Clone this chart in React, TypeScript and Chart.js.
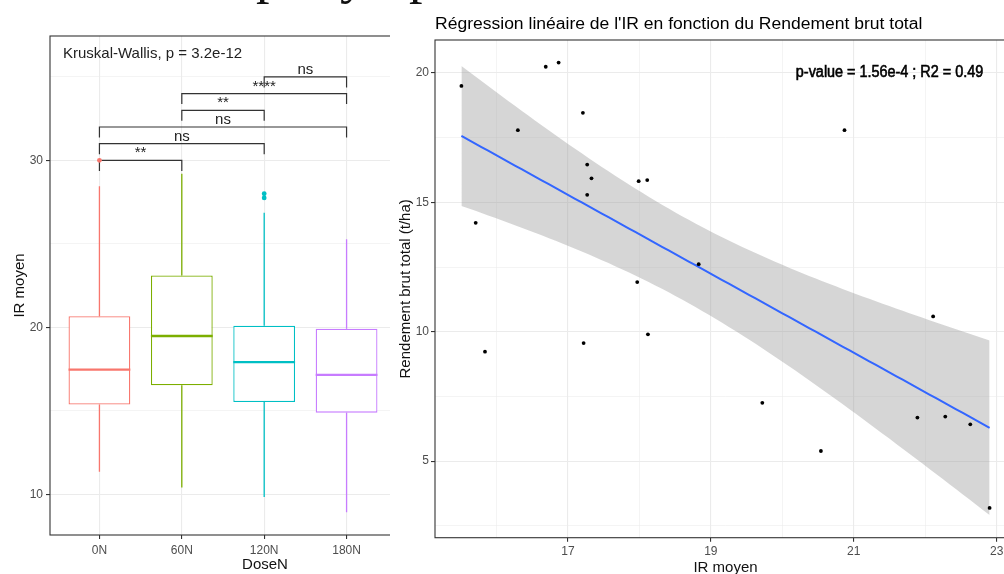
import React, { useEffect, useRef } from 'react';
import { Chart, registerables } from 'chart.js';

Chart.register(...registerables);

const FONT = "'Liberation Sans', Arial, Helvetica, sans-serif";

// ---------- Left panel: boxplot of IR moyen by DoseN ----------
const doseCategories = ['0N', '60N', '120N', '180N'];
const doseColors = ['#F8766D', '#7CAE00', '#00BFC4', '#C77CFF'];
const whiskerLow = [11.35, 10.4, 9.84, 8.92];
const boxQ1 = [15.37, 16.53, 15.53, 14.89];
const boxMedian = [17.47, 19.48, 17.92, 17.15];
const boxQ3 = [20.66, 23.1, 20.1, 19.92];
const whiskerHigh = [28.45, 29.2, 26.87, 25.27];
const outlierDose = [0, 2, 2];
const outlierIR = [30.0, 28.0, 27.75];
const bracketFrom = [0, 0, 0, 1, 1, 2];
const bracketTo = [1, 2, 3, 2, 3, 3];
const bracketHeight = [30, 31, 32, 33, 34, 35];
const bracketLabels = ['**', 'ns', 'ns', '**', '****', 'ns'];
const bracketTip = 0.63;
const kruskalLabel = 'Kruskal-Wallis, p = 3.2e-12';
const irTicks = [10, 15, 20, 25, 30, 35];
const irMajorTicks = [10, 20, 30];
const irRange = [7.56, 37.45];

// ---------- Right panel: regression ----------
const irMoyen = [
  15.51, 16.69, 16.87, 17.21, 16.3, 17.27, 17.33, 17.27, 17.99, 18.11, 20.87, 15.71,
  15.84, 17.22, 17.97, 18.12, 18.83, 22.11, 19.72, 20.54, 21.89, 22.28, 22.63, 22.9,
];
const rendement = [
  19.5, 20.24, 20.4, 18.46, 17.79, 16.46, 15.93, 15.29, 15.82, 15.86, 17.79, 14.21,
  9.23, 9.56, 11.92, 9.9, 12.61, 10.59, 7.25, 5.39, 6.68, 6.72, 6.42, 3.19,
];
const regXTicks = [16, 17, 18, 19, 20, 21, 22, 23];
const regXMajor = [17, 19, 21, 23];
const regYTicks = [2.5, 5, 7.5, 10, 12.5, 15, 17.5, 20];
const regYMajor = [5, 10, 15, 20];
const regTitle = "Régression linéaire de l'IR en fonction du Rendement brut total";
const regLabel = 'p-value = 1.56e-4 ; R2 = 0.49';
const regLabelPos = [21.5, 20];
const regXTitle = 'IR moyen';
const regYTitle = 'Rendement brut total (t/ha)';

function tQuantile975(df: number) {
  const z = 1.959964;
  const z3 = z ** 3, z5 = z ** 5, z7 = z ** 7;
  return (
    z +
    (z3 + z) / (4 * df) +
    (5 * z5 + 16 * z3 + 3 * z) / (96 * df * df) +
    (3 * z7 + 19 * z5 + 17 * z3 - 15 * z) / (384 * df ** 3)
  );
}

function fitRegression(xs: number[], ys: number[], steps = 80) {
  const n = xs.length;
  const mx = xs.reduce((a, b) => a + b, 0) / n;
  const my = ys.reduce((a, b) => a + b, 0) / n;
  let sxx = 0, sxy = 0;
  for (let i = 0; i < n; i++) {
    sxx += (xs[i] - mx) ** 2;
    sxy += (xs[i] - mx) * (ys[i] - my);
  }
  const slope = sxy / sxx;
  const intercept = my - slope * mx;
  let sse = 0;
  for (let i = 0; i < n; i++) sse += (ys[i] - (intercept + slope * xs[i])) ** 2;
  const s = Math.sqrt(sse / (n - 2));
  const t = tQuantile975(n - 2);
  const lo = Math.min(...xs), hi = Math.max(...xs);
  const fit: { x: number; y: number }[] = [];
  const upper: { x: number; y: number }[] = [];
  const lower: { x: number; y: number }[] = [];
  for (let i = 0; i < steps; i++) {
    const xv = lo + ((hi - lo) * i) / (steps - 1);
    const yv = intercept + slope * xv;
    const se = s * Math.sqrt(1 / n + (xv - mx) ** 2 / sxx);
    fit.push({ x: xv, y: yv });
    upper.push({ x: xv, y: yv + t * se });
    lower.push({ x: xv, y: yv - t * se });
  }
  return { fit, upper, lower };
}

const gridColor = '#EBEBEB';
const tickColor = '#4D4D4D';
const frameColor = '#333333';
const tickFontSize = 12;

function leftConfig(): any {
  const boxDecor = {
    id: 'boxDecor',
    beforeDatasetsDraw(chart: any) {
      const { ctx } = chart;
      const x = chart.scales.x, y = chart.scales.y;
      ctx.save();
      doseCategories.forEach((_, i) => {
        const px = x.getPixelForValue(i);
        ctx.strokeStyle = doseColors[i];
        ctx.lineWidth = 1.3;
        ctx.beginPath();
        ctx.moveTo(px, y.getPixelForValue(boxQ3[i]));
        ctx.lineTo(px, y.getPixelForValue(whiskerHigh[i]));
        ctx.moveTo(px, y.getPixelForValue(boxQ1[i]));
        ctx.lineTo(px, y.getPixelForValue(whiskerLow[i]));
        ctx.stroke();
      });
      ctx.strokeStyle = '#333';
      ctx.lineWidth = 1.2;
      ctx.fillStyle = '#222';
      ctx.font = `15px ${FONT}`;
      ctx.textAlign = 'center';
      ctx.textBaseline = 'alphabetic';
      bracketFrom.forEach((f, k) => {
        const x0 = x.getPixelForValue(f);
        const x1 = x.getPixelForValue(bracketTo[k]);
        const yl = y.getPixelForValue(bracketHeight[k]);
        const yt = y.getPixelForValue(bracketHeight[k] - bracketTip);
        ctx.beginPath();
        ctx.moveTo(x0, yt);
        ctx.lineTo(x0, yl);
        ctx.lineTo(x1, yl);
        ctx.lineTo(x1, yt);
        ctx.stroke();
        ctx.fillText(bracketLabels[k], (x0 + x1) / 2, yl - 3);
      });
      ctx.restore();
    },
    afterDatasetsDraw(chart: any) {
      const { ctx } = chart;
      const y = chart.scales.y;
      const meta = chart.getDatasetMeta(0);
      ctx.save();
      meta.data.forEach((bar: any, i: number) => {
        const py = y.getPixelForValue(boxMedian[i]);
        ctx.strokeStyle = doseColors[i];
        ctx.lineWidth = 2.3;
        ctx.beginPath();
        ctx.moveTo(bar.x - bar.width / 2, py);
        ctx.lineTo(bar.x + bar.width / 2, py);
        ctx.stroke();
      });
      ctx.restore();
    },
    afterDraw(chart: any) {
      const { ctx, chartArea } = chart;
      ctx.save();
      ctx.strokeStyle = frameColor;
      ctx.lineWidth = 1.1;
      ctx.strokeRect(chartArea.left, chartArea.top, chartArea.right - chartArea.left, chartArea.bottom - chartArea.top);
      ctx.fillStyle = '#222';
      ctx.font = `15px ${FONT}`;
      ctx.textAlign = 'left';
      ctx.textBaseline = 'middle';
      ctx.fillText(kruskalLabel, chartArea.left + 13, chartArea.top + 18);
      ctx.fillStyle = '#111';
      ctx.font = `15px ${FONT}`;
      ctx.textAlign = 'center';
      ctx.textBaseline = 'alphabetic';
      ctx.fillText('DoseN', 265, 569);
      ctx.translate(24, (chartArea.top + chartArea.bottom) / 2);
      ctx.rotate(-Math.PI / 2);
      ctx.fillText('IR moyen', 0, 0);
      ctx.restore();
    },
  };

  return {
    type: 'bar',
    data: {
      datasets: [
        {
          type: 'bar',
          data: doseCategories.map((_, i) => ({ x: i, y: [boxQ1[i], boxQ3[i]] })),
          backgroundColor: '#FFFFFF',
          borderColor: doseColors,
          borderWidth: 1.3,
          borderSkipped: false,
          barPercentage: 0.75,
          categoryPercentage: 1,
          order: 1,
        },
        {
          type: 'scatter',
          data: outlierDose.map((d, i) => ({ x: d, y: outlierIR[i] })),
          pointBackgroundColor: outlierDose.map((d) => doseColors[d]),
          pointBorderWidth: 0,
          pointRadius: 2.4,
          order: 0,
        },
      ],
    },
    options: {
      animation: false,
      responsive: false,
      events: [],
      layout: { padding: { top: 36, right: 3, left: 0, bottom: 0 } },
      plugins: { legend: { display: false }, tooltip: { enabled: false }, title: { display: false } },
      scales: {
        x: {
          type: 'linear',
          min: -0.6,
          max: 3.6,
          offset: false,
          afterBuildTicks: (s: any) => {
            s.ticks = doseCategories.map((_, i) => ({ value: i }));
          },
          afterFit: (s: any) => {
            s.height = 39;
          },
          ticks: {
            autoSkip: false,
            maxRotation: 0,
            color: tickColor,
            font: { size: tickFontSize, family: FONT },
            padding: 4,
            callback: (v: any) => doseCategories[v] ?? '',
          },
          grid: { offset: false, color: gridColor, lineWidth: 1.1, tickColor: frameColor, tickLength: 4 },
          border: { display: false },
        },
        y: {
          type: 'linear',
          min: irRange[0],
          max: irRange[1],
          beginAtZero: false,
          afterBuildTicks: (s: any) => {
            s.ticks = irTicks.map((v) => ({ value: v }));
          },
          afterFit: (s: any) => {
            s.width = 50;
          },
          ticks: {
            autoSkip: false,
            color: tickColor,
            font: { size: tickFontSize, family: FONT },
            padding: 3,
            callback: (v: any) => (irMajorTicks.includes(v) ? String(v) : ''),
          },
          grid: {
            color: gridColor,
            lineWidth: (c: any) => (irMajorTicks.includes(c.tick?.value) ? 1.1 : 0.55),
            tickColor: (c: any) => (irMajorTicks.includes(c.tick?.value) ? frameColor : 'rgba(0,0,0,0)'),
            tickLength: 4,
          },
          border: { display: false },
        },
      },
    },
    plugins: [boxDecor],
  };
}

function rightConfig(): any {
  const reg = fitRegression(irMoyen, rendement);
  const xLo = Math.min(...irMoyen), xHi = Math.max(...irMoyen);
  const xPad = (xHi - xLo) * 0.05;
  const yAll = [...rendement, ...reg.lower.map((p) => p.y), ...reg.upper.map((p) => p.y)];
  const yLo = Math.min(...yAll), yHi = Math.max(...yAll);
  const yPad = (yHi - yLo) * 0.05;

  const regDecor = {
    id: 'regDecor',
    afterDraw(chart: any) {
      const { ctx, chartArea } = chart;
      const x = chart.scales.x, y = chart.scales.y;
      ctx.save();
      ctx.strokeStyle = frameColor;
      ctx.lineWidth = 1.1;
      ctx.strokeRect(chartArea.left, chartArea.top, chartArea.right - chartArea.left, chartArea.bottom - chartArea.top);

      // title
      ctx.save();
      ctx.fillStyle = '#000';
      ctx.font = `16px ${FONT}`;
      ctx.textAlign = 'left';
      ctx.textBaseline = 'alphabetic';
      ctx.translate(chartArea.left, 29.3);
      ctx.scale(1.095, 1);
      ctx.fillText(regTitle, 0, 0);
      ctx.restore();

      // p-value annotation
      ctx.save();
      ctx.fillStyle = '#000';
      ctx.strokeStyle = '#000';
      ctx.lineWidth = 0.6;
      ctx.font = `16px ${FONT}`;
      ctx.textAlign = 'center';
      ctx.textBaseline = 'middle';
      ctx.translate(x.getPixelForValue(regLabelPos[0]), y.getPixelForValue(regLabelPos[1]));
      ctx.scale(0.9, 1);
      ctx.fillText(regLabel, 0, 0);
      ctx.strokeText(regLabel, 0, 0);
      ctx.restore();

      // axis titles
      ctx.fillStyle = '#111';
      ctx.font = `15px ${FONT}`;
      ctx.textAlign = 'center';
      ctx.textBaseline = 'alphabetic';
      ctx.fillText(regXTitle, (chartArea.left + chartArea.right) / 2, 572);
      ctx.translate(19.5, (chartArea.top + chartArea.bottom) / 2);
      ctx.rotate(-Math.PI / 2);
      ctx.fillText(regYTitle, 0, 0);
      ctx.restore();
    },
  };

  return {
    type: 'line',
    data: {
      datasets: [
        {
          data: reg.lower,
          borderWidth: 0,
          borderColor: 'rgba(0,0,0,0)',
          pointRadius: 0,
          fill: false,
          tension: 0,
          order: 3,
        },
        {
          data: reg.upper,
          borderWidth: 0,
          borderColor: 'rgba(0,0,0,0)',
          pointRadius: 0,
          fill: '-1',
          backgroundColor: 'rgba(153,153,153,0.4)',
          tension: 0,
          order: 2,
        },
        {
          data: reg.fit,
          borderColor: '#3366FF',
          borderWidth: 2,
          pointRadius: 0,
          fill: false,
          tension: 0,
          order: 1,
        },
        {
          data: irMoyen.map((v, i) => ({ x: v, y: rendement[i] })),
          showLine: false,
          pointRadius: 1.9,
          pointBackgroundColor: '#000',
          pointBorderWidth: 0,
          fill: false,
          order: 0,
        },
      ],
    },
    options: {
      animation: false,
      responsive: false,
      events: [],
      layout: { padding: { top: 40, right: 14, left: 0, bottom: 0 } },
      plugins: { legend: { display: false }, tooltip: { enabled: false }, title: { display: false } },
      scales: {
        x: {
          type: 'linear',
          min: xLo - xPad,
          max: xHi + xPad,
          afterBuildTicks: (s: any) => {
            s.ticks = regXTicks.map((v) => ({ value: v }));
          },
          afterFit: (s: any) => {
            s.height = 36.3;
          },
          ticks: {
            autoSkip: false,
            maxRotation: 0,
            color: tickColor,
            font: { size: tickFontSize, family: FONT },
            padding: 3,
            callback: (v: any) => (regXMajor.includes(v) ? String(v) : ''),
          },
          grid: {
            color: gridColor,
            lineWidth: (c: any) => (regXMajor.includes(c.tick?.value) ? 1.1 : 0.55),
            tickColor: (c: any) => (regXMajor.includes(c.tick?.value) ? frameColor : 'rgba(0,0,0,0)'),
            tickLength: 4,
          },
          border: { display: false },
        },
        y: {
          type: 'linear',
          min: yLo - yPad,
          max: yHi + yPad,
          afterBuildTicks: (s: any) => {
            s.ticks = regYTicks.map((v) => ({ value: v }));
          },
          afterFit: (s: any) => {
            s.width = 45;
          },
          ticks: {
            autoSkip: false,
            color: tickColor,
            font: { size: tickFontSize, family: FONT },
            padding: 2,
            callback: (v: any) => (regYMajor.includes(v) ? String(v) : ''),
          },
          grid: {
            color: gridColor,
            lineWidth: (c: any) => (regYMajor.includes(c.tick?.value) ? 1.1 : 0.55),
            tickColor: (c: any) => (regYMajor.includes(c.tick?.value) ? frameColor : 'rgba(0,0,0,0)'),
            tickLength: 4,
          },
          border: { display: false },
        },
      },
    },
    plugins: [regDecor],
  };
}

const serifFragments = ['p', 'y', 'p'];
const serifFragmentLeft = [256, 340, 409];

export default function App() {
  const leftRef = useRef<HTMLCanvasElement>(null);
  const rightRef = useRef<HTMLCanvasElement>(null);

  useEffect(() => {
    const left = new Chart(leftRef.current as HTMLCanvasElement, leftConfig());
    const right = new Chart(rightRef.current as HTMLCanvasElement, rightConfig());
    return () => {
      left.destroy();
      right.destroy();
    };
  }, []);

  return (
    <div
      style={{
        position: 'absolute',
        left: 0,
        top: 0,
        width: 1004,
        height: 574,
        overflow: 'hidden',
        background: '#fff',
      }}
    >
      <canvas
        ref={leftRef}
        width={400}
        height={574}
        style={{ position: 'absolute', left: 0, top: 0, width: 400, height: 574, background: '#fff' }}
      />
      <canvas
        ref={rightRef}
        width={640}
        height={574}
        style={{ position: 'absolute', left: 390, top: 0, width: 640, height: 574, background: '#fff' }}
      />
      {serifFragments.map((ch, i) => (
        <span
          key={i}
          style={{
            position: 'absolute',
            left: serifFragmentLeft[i],
            top: -53,
            fontFamily: "'Liberation Serif', 'Times New Roman', serif",
            fontSize: 54,
            lineHeight: '54px',
            color: '#111',
          }}
        >
          {ch}
        </span>
      ))}
    </div>
  );
}
